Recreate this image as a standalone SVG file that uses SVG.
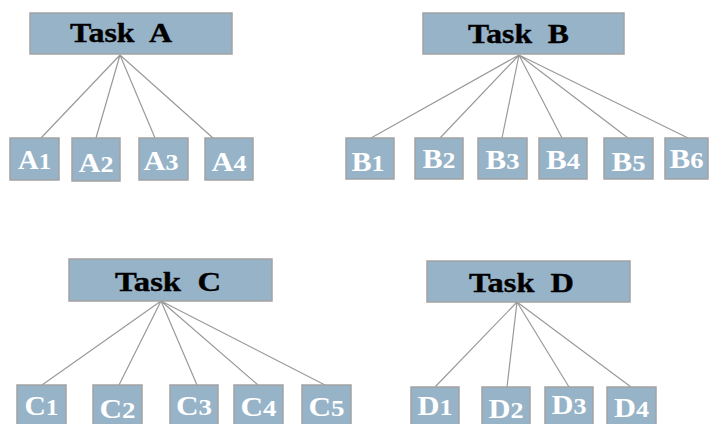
<svg xmlns="http://www.w3.org/2000/svg" width="709" height="424" viewBox="0 0 709 424">
<style>
.box{fill:#97b3c8;stroke:#a3a3a3;stroke-width:1.5}
.edge{stroke:#9a9a9a;stroke-width:1.2;fill:none}
.t{font-family:"Liberation Serif","Times New Roman",serif;font-weight:bold;font-size:28px;fill:#000;stroke:#000;stroke-width:0.4;white-space:pre}
.c{font-family:"Liberation Serif","Times New Roman",serif;font-weight:bold;font-size:28px;fill:#fff;text-anchor:middle}
.c tspan{font-size:24px}
</style>
<rect width="709" height="424" fill="#fff"/>
<g id="connectors">
<path class="edge" d="M120 55L41 138M120 55L96 138M120 55L155 138M120 55L213 138"/>
<path class="edge" d="M519 55L371 138M519 55L440 138M519 55L502 138M519 55L562 138M519 55L628 138M519 55L688 138"/>
<path class="edge" d="M161 301L42 385M161 301L119 385M161 301L197 385M161 301L258 385M161 301L325 385"/>
<path class="edge" d="M517 302L435 387M517 302L507 387M517 302L569 387M517 302L631 387"/>
</g>
<g id="taskA"><rect class="box" x="30" y="13" width="202" height="41"/><text class="t" x="70" y="42" xml:space="preserve" textLength="102" lengthAdjust="spacingAndGlyphs">Task  A</text></g>
<g id="taskB"><rect class="box" x="423" y="13" width="201" height="41"/><text class="t" x="468" y="43" xml:space="preserve" textLength="101" lengthAdjust="spacingAndGlyphs">Task  B</text></g>
<g id="taskC"><rect class="box" x="69" y="259" width="203" height="42"/><text class="t" x="115" y="291" xml:space="preserve" textLength="106" lengthAdjust="spacingAndGlyphs">Task  C</text></g>
<g id="taskD"><rect class="box" x="427" y="261" width="203" height="41"/><text class="t" x="469" y="292" xml:space="preserve" textLength="105" lengthAdjust="spacingAndGlyphs">Task  D</text></g>
<g id="A1"><rect class="box" x="10" y="138" width="49" height="42"/><text class="c" x="34.5" y="169" textLength="33" lengthAdjust="spacingAndGlyphs">A<tspan>1</tspan></text></g>
<g id="A2"><rect class="box" x="72" y="138" width="48" height="43"/><text class="c" x="96" y="172" textLength="35" lengthAdjust="spacingAndGlyphs">A<tspan>2</tspan></text></g>
<g id="A3"><rect class="box" x="139" y="138" width="49" height="42"/><text class="c" x="161" y="170" textLength="35" lengthAdjust="spacingAndGlyphs">A<tspan>3</tspan></text></g>
<g id="A4"><rect class="box" x="205" y="138" width="48" height="42"/><text class="c" x="229" y="171" textLength="35" lengthAdjust="spacingAndGlyphs">A<tspan>4</tspan></text></g>
<g id="B1"><rect class="box" x="346" y="138" width="48" height="41"/><text class="c" x="368" y="171" textLength="33" lengthAdjust="spacingAndGlyphs">B<tspan>1</tspan></text></g>
<g id="B2"><rect class="box" x="415" y="138" width="48" height="41"/><text class="c" x="439" y="168" textLength="33" lengthAdjust="spacingAndGlyphs">B<tspan>2</tspan></text></g>
<g id="B3"><rect class="box" x="478" y="138" width="49" height="41"/><text class="c" x="502.5" y="169" textLength="34" lengthAdjust="spacingAndGlyphs">B<tspan>3</tspan></text></g>
<g id="B4"><rect class="box" x="539" y="138" width="48" height="41"/><text class="c" x="563" y="169" textLength="34" lengthAdjust="spacingAndGlyphs">B<tspan>4</tspan></text></g>
<g id="B5"><rect class="box" x="604" y="138" width="49" height="41"/><text class="c" x="628.5" y="171" textLength="34" lengthAdjust="spacingAndGlyphs">B<tspan>5</tspan></text></g>
<g id="B6"><rect class="box" x="665" y="138" width="43" height="41"/><text class="c" x="686.5" y="168" textLength="34" lengthAdjust="spacingAndGlyphs">B<tspan>6</tspan></text></g>
<g id="C1"><rect class="box" x="17" y="385" width="49" height="42"/><text class="c" x="41.5" y="415" textLength="34" lengthAdjust="spacingAndGlyphs">C<tspan>1</tspan></text></g>
<g id="C2"><rect class="box" x="93" y="385" width="49" height="42"/><text class="c" x="117.5" y="418" textLength="36" lengthAdjust="spacingAndGlyphs">C<tspan>2</tspan></text></g>
<g id="C3"><rect class="box" x="170" y="385" width="48" height="42"/><text class="c" x="194" y="415" textLength="36" lengthAdjust="spacingAndGlyphs">C<tspan>3</tspan></text></g>
<g id="C4"><rect class="box" x="234" y="385" width="49" height="42"/><text class="c" x="258.5" y="416" textLength="36" lengthAdjust="spacingAndGlyphs">C<tspan>4</tspan></text></g>
<g id="C5"><rect class="box" x="302" y="385" width="49" height="42"/><text class="c" x="326.5" y="416" textLength="36" lengthAdjust="spacingAndGlyphs">C<tspan>5</tspan></text></g>
<g id="D1"><rect class="box" x="411" y="387" width="48" height="40"/><text class="c" x="435" y="415" textLength="35" lengthAdjust="spacingAndGlyphs">D<tspan>1</tspan></text></g>
<g id="D2"><rect class="box" x="482" y="387" width="48" height="40"/><text class="c" x="506" y="418" textLength="35" lengthAdjust="spacingAndGlyphs">D<tspan>2</tspan></text></g>
<g id="D3"><rect class="box" x="545" y="387" width="48" height="40"/><text class="c" x="569" y="414" textLength="35" lengthAdjust="spacingAndGlyphs">D<tspan>3</tspan></text></g>
<g id="D4"><rect class="box" x="607" y="387" width="49" height="40"/><text class="c" x="631.5" y="417" textLength="35" lengthAdjust="spacingAndGlyphs">D<tspan>4</tspan></text></g>
</svg>
